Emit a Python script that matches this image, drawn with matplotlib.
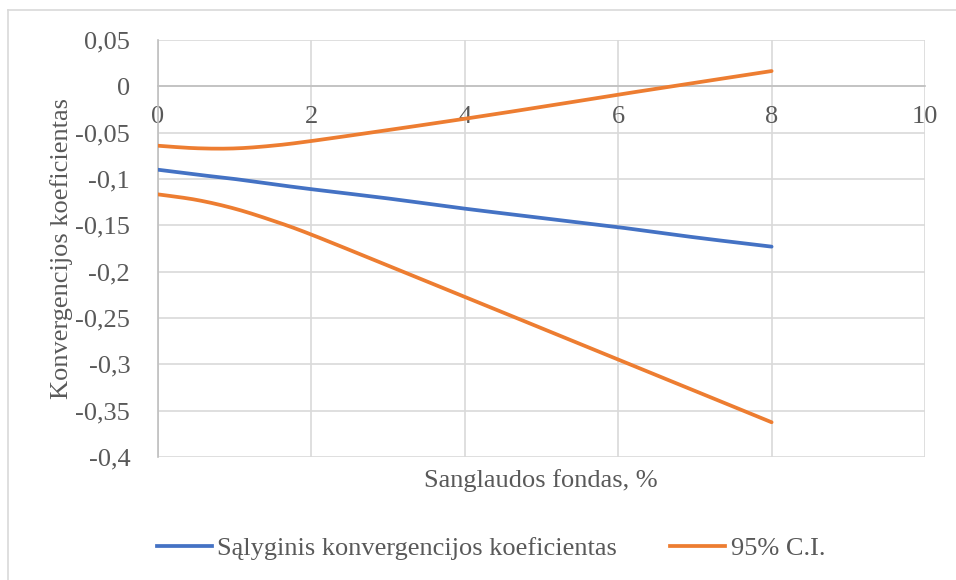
import numpy as np
import matplotlib
matplotlib.use("Agg")
import matplotlib.pyplot as plt
from matplotlib.lines import Line2D

# Cohesion fund share (%) and the conditional convergence coefficient with its 95% CI
fund_share = [0, 0.5, 1, 1.5, 2, 3, 4, 5, 6, 7, 8]
conditional_coef = [-0.090, -0.0952, -0.100, -0.1056, -0.111, -0.121, -0.132, -0.142, -0.152, -0.163, -0.173]
ci_upper = [-0.0641, -0.0668, -0.0670, -0.0640, -0.0590, -0.0472, -0.0350, -0.0222, -0.0090, 0.0038, 0.0165]
ci_lower = [-0.1166, -0.1225, -0.1320, -0.1450, -0.1600, -0.1935, -0.2272, -0.2610, -0.2948, -0.3287, -0.3625]

x_ticks = [0, 2, 4, 6, 8, 10]
x_tick_labels = ["0", "2", "4", "6", "8", "10"]
y_ticks = [0.05, 0, -0.05, -0.1, -0.15, -0.2, -0.25, -0.3, -0.35, -0.4]
y_tick_labels = ["0,05", "0", "-0,05", "-0,1", "-0,15", "-0,2", "-0,25", "-0,3", "-0,35", "-0,4"]

series_names = ["Sąlyginis konvergencijos koeficientas", "95% C.I."]
x_title = "Sanglaudos fondas, %"
y_title = "Konvergencijos koeficientas"

BLUE = "#4472C4"
ORANGE = "#ED7D31"
GRID = "#D9D9D9"
AXIS = "#BFBFBF"
TEXT = "#595959"
FONT = "Liberation Serif"
FS = 19
LW = 2.7

W, H = 956, 580


def smooth(xs, ys, n=24):
    """Piecewise cubic Bezier through the points (Catmull-Rom style smoothing)."""
    p = np.column_stack([xs, ys]).astype(float)
    p_ext = np.vstack([p[0], p, p[-1]])
    out = [p[0]]
    t = np.linspace(0, 1, n)[1:, None]
    for i in range(len(p) - 1):
        p0, p1, p2, p3 = p_ext[i], p_ext[i + 1], p_ext[i + 2], p_ext[i + 3]
        b1 = p1 + (p2 - p0) / 6.0
        b2 = p2 - (p3 - p1) / 6.0
        seg = ((1 - t) ** 3) * p1 + 3 * ((1 - t) ** 2) * t * b1 + 3 * (1 - t) * t ** 2 * b2 + t ** 3 * p2
        out.extend(seg)
    out = np.array(out)
    return out[:, 0], out[:, 1]


fig = plt.figure(figsize=(W / 100, H / 100), dpi=100)

# outer chart frame
fig.add_artist(Line2D([8 / W, 8 / W], [0, 1 - 10 / H], color=GRID, lw=1.2, transform=fig.transFigure))
fig.add_artist(Line2D([8 / W, 1], [1 - 10 / H, 1 - 10 / H], color=GRID, lw=1.2, transform=fig.transFigure))

left, right, top, bottom = 158, 925, 40, 457
ax = fig.add_axes([left / W, 1 - bottom / H, (right - left) / W, (bottom - top) / H])

ax.set_xlim(0, 10)
ax.set_ylim(-0.4, 0.05)
ax.set_xticks(x_ticks)
ax.set_xticklabels(x_tick_labels)
ax.set_yticks(y_ticks)
ax.set_yticklabels(y_tick_labels)
ax.grid(True, color=GRID, lw=1.2)
ax.set_axisbelow(True)

for s in ("top", "right"):
    ax.spines[s].set_visible(False)
ax.spines["bottom"].set_position(("data", 0))
ax.spines["bottom"].set_color(AXIS)
ax.spines["bottom"].set_linewidth(1.2)
ax.spines["left"].set_color(AXIS)
ax.spines["left"].set_linewidth(1.2)
ax.tick_params(axis="both", length=0, colors=TEXT, labelsize=FS)
ax.tick_params(axis="x", pad=14)
ax.tick_params(axis="y", pad=20)
for lab in ax.get_xticklabels() + ax.get_yticklabels():
    lab.set_fontfamily(FONT)

xs, ys = smooth(fund_share, conditional_coef)
ax.plot(xs, ys, color=BLUE, lw=LW, solid_capstyle="round", zorder=3)
xs, ys = smooth(fund_share, ci_upper)
ax.plot(xs, ys, color=ORANGE, lw=LW, solid_capstyle="round", zorder=3)
xs, ys = smooth(fund_share, ci_lower)
ax.plot(xs, ys, color=ORANGE, lw=LW, solid_capstyle="round", zorder=3)

# axis titles
fig.text(541 / W, 1 - 487 / H, x_title, ha="center", va="baseline",
         fontsize=FS, color=TEXT, family=FONT)
fig.text(68 / W, 1 - 248.5 / H, y_title, ha="center", va="baseline",
         rotation=90, rotation_mode="anchor", fontsize=FS, color=TEXT, family=FONT)

handles = [Line2D([], [], color=BLUE, lw=LW), Line2D([], [], color=ORANGE, lw=LW)]
leg = fig.legend(handles, series_names, loc="center", ncol=2,
                 bbox_to_anchor=(491 / W, 1 - 548 / H), frameon=False,
                 prop={"family": FONT, "size": FS}, handlelength=2.1,
                 handletextpad=0.2, columnspacing=2.0, borderpad=0, borderaxespad=0)
for t in leg.get_texts():
    t.set_color(TEXT)

fig.savefig("out.png", dpi=100)
